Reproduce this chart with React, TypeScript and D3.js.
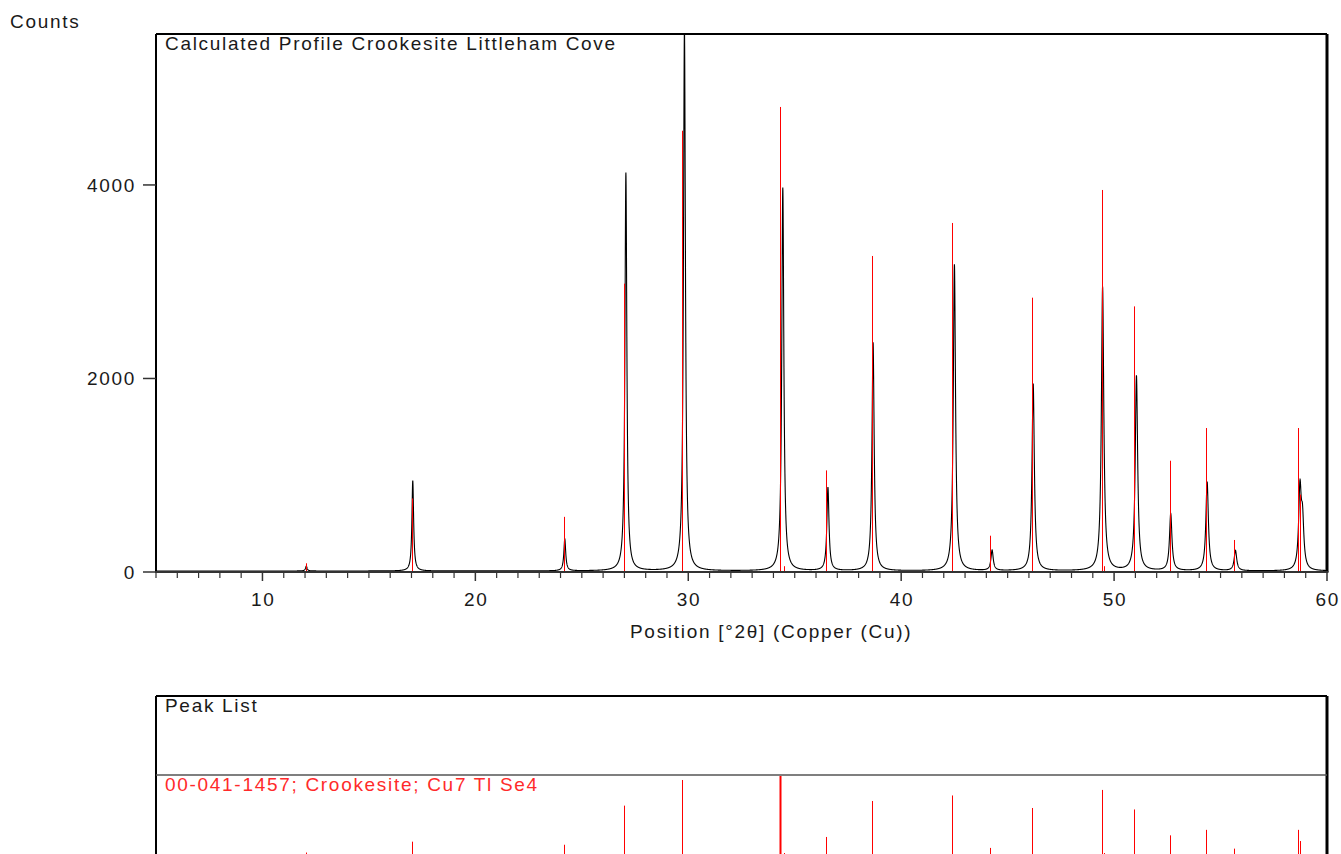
import React from "react";
import * as d3 from "d3";

// ---- data ----
const xMajorTicks = [10, 20, 30, 40, 50, 60];
const yTicks = [0, 2000, 4000];

// reference pattern 00-041-1457 (red sticks): position [°2θ], intensity [counts]
const refPos = [12.02, 17.02, 24.13, 27.02, 29.75, 34.35, 34.52, 36.48, 38.62, 42.43, 44.21, 46.15, 49.39, 49.56, 50.97, 52.6, 54.32, 55.63, 58.66, 58.76];
const refInt = [90, 760, 570, 2980, 4560, 4806, 60, 1050, 3266, 3607, 375, 2835, 3948, 60, 2745, 1150, 1488, 331, 1488, 800];

// calculated profile (black): peak position [°2θ], peak height [counts]
const profPos = [12.06, 17.06, 24.2, 27.07, 29.82, 34.44, 36.56, 38.68, 42.5, 44.27, 46.2, 49.46, 51.05, 52.66, 54.37, 55.7, 58.73, 58.85];
const profHeight = [50, 935, 330, 4114, 5600, 3960, 860, 2360, 3168, 210, 1935, 2935, 2015, 589, 920, 210, 815, 470];

// ---- layout ----
const W = 1341;
const H = 854;
const L = 156;
const R = 1327;
const TOP = 34;
const AXIS_Y = 572;
const P2_TOP = 696;
const P2_SEP = 775;
const P2_BASE = 854;

const FONT = "'Liberation Sans', Arial, sans-serif";
const FS = 19;
const LS = 1.7;
const TXT = "#1a1a1a";

function lorentz(x: number, c: number, h: number) {
  const w = 0.075 + 0.0012 * c;
  const d = (2 * (x - c)) / w;
  return h / (1 + d * d);
}

// snap a stick to a pixel column
const col = (v: number) => 2 * Math.round(v / 2) + 0.5;

export default function App() {
  const x = d3.scaleLinear().domain([5, 60]).range([L, R]);
  const y = d3.scaleLinear().domain([0, 5560]).range([AXIS_Y, TOP]);
  const yRef = d3.scaleLinear().domain([0, d3.max(refInt) as number]).range([P2_BASE, P2_SEP + 1]);

  const grid = d3.range(5, 60.0001, 0.005);
  const profile: [number, number][] = grid.map((t) => {
    let s = 0;
    for (let i = 0; i < profPos.length; i++) s += lorentz(t, profPos[i], profHeight[i]);
    return [t, s];
  });
  const line = d3
    .line<[number, number]>()
    .x((d) => x(d[0]))
    .y((d) => y(d[1]) - 1);

  const minorTicks = d3.range(5, 61, 1).filter((v) => !xMajorTicks.includes(v));
  const maxRef = d3.max(refInt) as number;

  return (
    <svg
      width={W}
      height={H}
      style={{ position: "absolute", left: 0, top: 0, background: "#fff" }}
      fontFamily={FONT}
    >
      <defs>
        <clipPath id="plotclip">
          <rect x={L} y={TOP} width={R - L} height={AXIS_Y - TOP} />
        </clipPath>
      </defs>
      <rect x={0} y={0} width={W} height={H} fill="#fff" />

      {/* y axis title */}
      <text x={10} y={28} fontSize={FS} letterSpacing={LS} fill={TXT}>
        Counts
      </text>

      {/* profile */}
      <g clipPath="url(#plotclip)">
        <path d={line(profile) || ""} fill="none" stroke="#000" strokeWidth={1.1} />
        {refPos.map((p, i) => (
          <line
            key={i}
            x1={col(x(p))}
            x2={col(x(p))}
            y1={y(0)}
            y2={y(refInt[i])}
            stroke="#ff0000"
            strokeWidth={1}
          />
        ))}
      </g>

      {/* frame of top panel */}
      <line x1={L} x2={R} y1={TOP} y2={TOP} stroke="#000" strokeWidth={2} />
      <line x1={L} x2={L} y1={TOP} y2={AXIS_Y} stroke="#000" strokeWidth={2} />
      <line x1={R} x2={R} y1={TOP} y2={AXIS_Y} stroke="#000" strokeWidth={3} />
      <line x1={L - 1} x2={R + 1.5} y1={AXIS_Y} y2={AXIS_Y} stroke="#333" strokeWidth={2} />

      <text x={165} y={50} fontSize={FS} letterSpacing={LS} fill={TXT}>
        Calculated Profile Crookesite Littleham Cove
      </text>

      {/* y ticks */}
      {yTicks.map((t) => (
        <g key={t}>
          <line x1={L - 13} x2={L} y1={y(t)} y2={y(t)} stroke="#333" strokeWidth={1.5} />
          <text
            x={L - 20}
            y={y(t) + 7}
            fontSize={FS}
            letterSpacing={LS}
            textAnchor="end"
            fill={TXT}
          >
            {t}
          </text>
        </g>
      ))}

      {/* x ticks */}
      {minorTicks.map((t) => (
        <line key={t} x1={x(t)} x2={x(t)} y1={AXIS_Y} y2={AXIS_Y + 6} stroke="#333" strokeWidth={1.2} />
      ))}
      {xMajorTicks.map((t) => (
        <g key={t}>
          <line x1={x(t)} x2={x(t)} y1={AXIS_Y} y2={AXIS_Y + 9} stroke="#333" strokeWidth={1.5} />
          <text x={x(t) + LS / 2} y={606} fontSize={FS} letterSpacing={LS} textAnchor="middle" fill={TXT}>
            {t}
          </text>
        </g>
      ))}

      <text x={630} y={638} fontSize={FS} letterSpacing={LS} fill={TXT}>
        Position [°2θ] (Copper (Cu))
      </text>

      {/* bottom panel */}
      <line x1={L} x2={R} y1={P2_TOP} y2={P2_TOP} stroke="#000" strokeWidth={2} />
      <line x1={L} x2={L} y1={P2_TOP} y2={H} stroke="#000" strokeWidth={2} />
      <line x1={R} x2={R} y1={P2_TOP} y2={H} stroke="#000" strokeWidth={3} />
      <line x1={L} x2={R} y1={P2_SEP} y2={P2_SEP} stroke="#555" strokeWidth={1.5} />
      <text x={165} y={712} fontSize={FS} letterSpacing={LS} fill={TXT}>
        Peak List
      </text>
      <text x={165} y={791} fontSize={FS} letterSpacing={LS} fill="#ff2a2a">
        00-041-1457; Crookesite; Cu7 Tl Se4
      </text>
      {refPos.map((p, i) => (
        <line
          key={i}
          x1={col(x(p))}
          x2={col(x(p))}
          y1={P2_BASE}
          y2={yRef(refInt[i])}
          stroke="#ff0000"
          strokeWidth={refInt[i] === maxRef ? 2 : 1}
        />
      ))}
    </svg>
  );
}
